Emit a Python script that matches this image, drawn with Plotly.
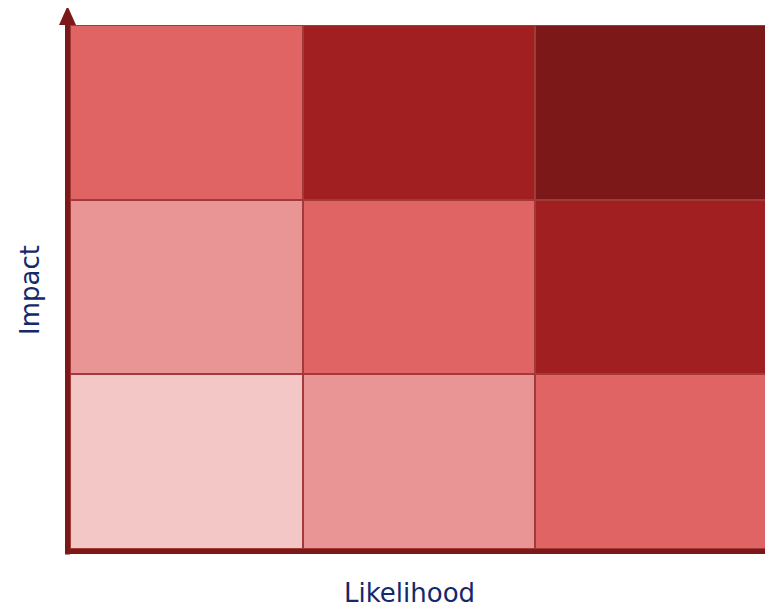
import plotly.graph_objects as go

likelihood = ["Low", "Medium", "High"]
impact = ["Low", "Medium", "High"]
# risk level per cell (rows = impact low->high, cols = likelihood low->high)
risk = [
    [0, 1, 2],
    [1, 2, 3],
    [2, 3, 4],
]
level_colors = ["#F4C7C7", "#EA9595", "#E06464", "#A11F21", "#7D1818"]

n = len(level_colors)
colorscale = []
for i, c in enumerate(level_colors):
    colorscale.append([i / n, c])
    colorscale.append([(i + 1) / n, c])

fig = go.Figure(go.Heatmap(
    z=risk, x=likelihood, y=impact,
    colorscale=colorscale, zmin=-0.5, zmax=n - 0.5,
    showscale=False, xgap=2, ygap=2, hoverinfo="skip",
))

OFF = 8  # page body margin
W, H = 773 - OFF, 609 - OFF
L, R, T, B = 70 - OFF, 5, 25 - OFF, 60
pw, ph = W - L - R, H - T - B


def fx(p):
    return (p - OFF - L) / pw


def fy(p):
    return (H - B - (p - OFF)) / ph


axis_col = "#7D1818"
shapes = [
    dict(type="line", xref="paper", yref="paper", x0=fx(67.5), x1=fx(67.5),
         y0=fy(554.5), y1=fy(24), line=dict(color=axis_col, width=5), layer="above"),
    dict(type="line", xref="paper", yref="paper", x0=fx(65), x1=fx(768),
         y0=fy(551.5), y1=fy(551.5), line=dict(color=axis_col, width=5), layer="above"),
    dict(type="path", xref="paper", yref="paper",
         path=f"M{fx(67.5)},{fy(6)} L{fx(59)},{fy(25)} L{fx(76)},{fy(25)} Z",
         fillcolor=axis_col, line=dict(width=0), layer="above"),
    dict(type="path", xref="paper", yref="paper",
         path=f"M{fx(779)},{fy(551.5)} L{fx(766)},{fy(542)} L{fx(766)},{fy(561)} Z",
         fillcolor=axis_col, line=dict(width=0), layer="above"),
]

text_col = "#14296B"
font = dict(family="DejaVu Sans", size=26, color=text_col)
annotations = [
    dict(text="Likelihood", xref="paper", yref="paper", x=fx(409), y=fy(593),
         showarrow=False, font=font, xanchor="center", yanchor="middle"),
    dict(text="Impact", xref="paper", yref="paper", x=fx(30), y=fy(290),
         showarrow=False, font=font, textangle=-90, xanchor="center", yanchor="middle"),
]

fig.update_layout(
    width=W, height=H,
    margin=dict(l=L, r=R, t=T, b=B, pad=0),
    paper_bgcolor="white", plot_bgcolor="#A33A3A",
    shapes=shapes, annotations=annotations,
    xaxis=dict(visible=False, range=[-0.5, 2.5], fixedrange=True),
    yaxis=dict(visible=False, range=[-0.5, 2.5], fixedrange=True),
)

fig.write_html("out.html")
